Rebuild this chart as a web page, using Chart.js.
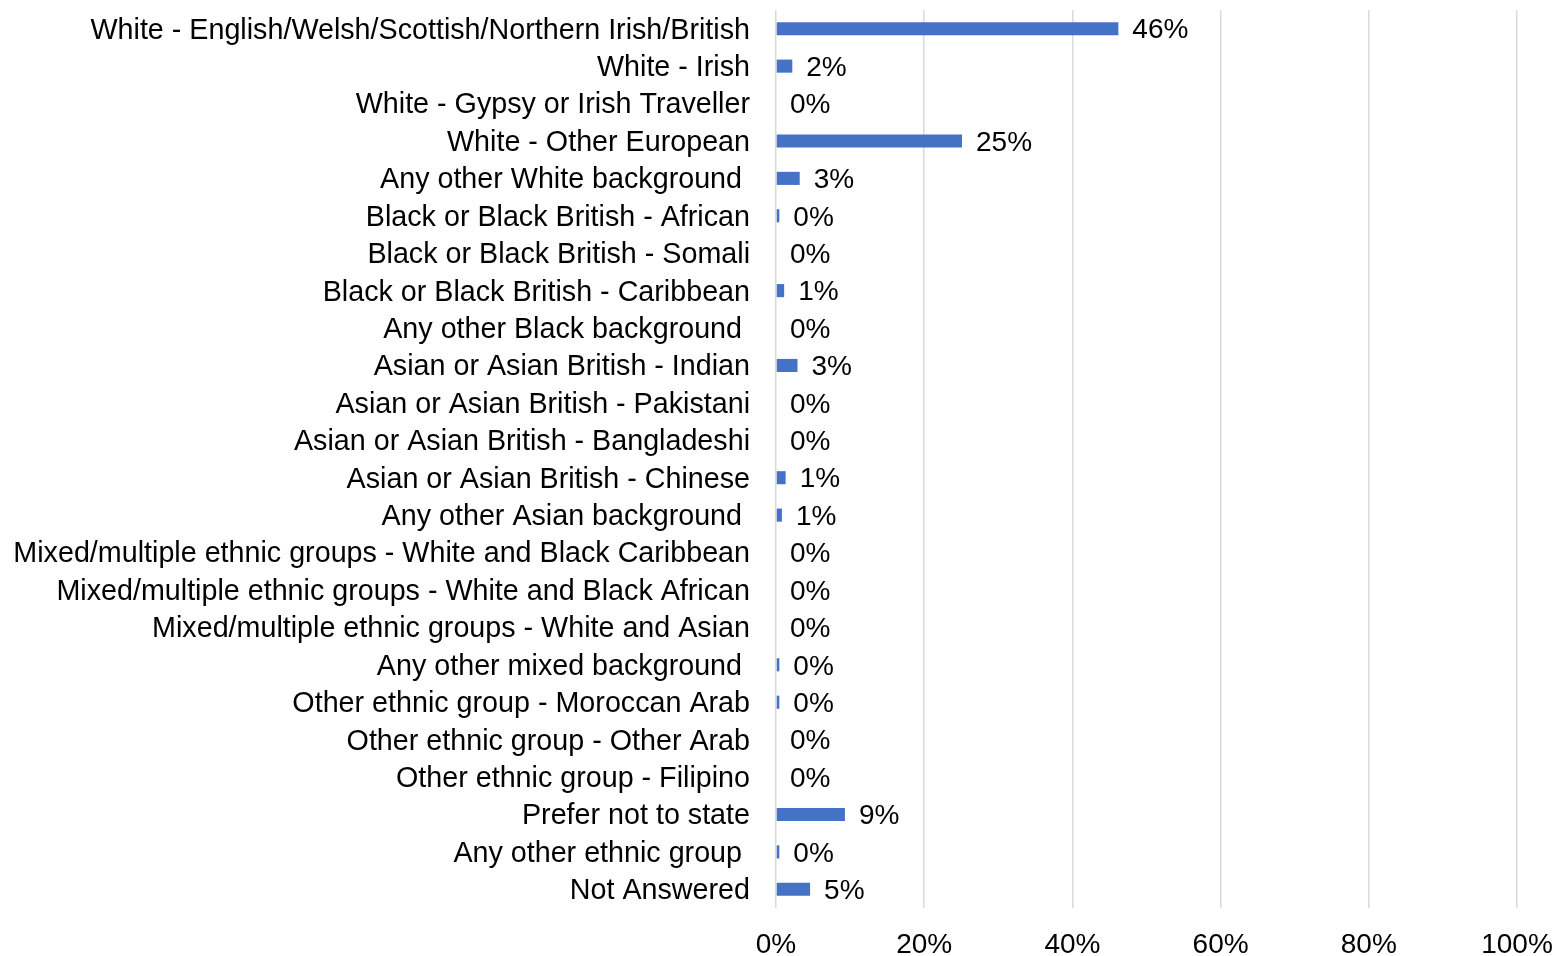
<!DOCTYPE html>
<html>
<head>
<meta charset="utf-8">
<title>Ethnic group</title>
<script src="https://cdn.jsdelivr.net/npm/chart.js@4.4.0/dist/chart.umd.min.js"></script>
<style>
  html, body { margin: 0; padding: 0; background: #fff; }
  #wrap { width: 1554px; height: 956px; }
</style>
</head>
<body>
<div id="wrap"><canvas id="ethnicChart" width="1554" height="956"></canvas></div>
<script>
/* ---------- DATA ---------- */
const GROUPS = [
  "White - English/Welsh/Scottish/Northern Irish/British",
  "White - Irish",
  "White - Gypsy or Irish Traveller",
  "White - Other European",
  "Any other White background ",
  "Black or Black British - African",
  "Black or Black British - Somali",
  "Black or Black British - Caribbean",
  "Any other Black background ",
  "Asian or Asian British - Indian",
  "Asian or Asian British - Pakistani",
  "Asian or Asian British - Bangladeshi",
  "Asian or Asian British - Chinese",
  "Any other Asian background ",
  "Mixed/multiple ethnic groups - White and Black Caribbean",
  "Mixed/multiple ethnic groups - White and Black African",
  "Mixed/multiple ethnic groups - White and Asian",
  "Any other mixed background ",
  "Other ethnic group - Moroccan Arab",
  "Other ethnic group - Other Arab",
  "Other ethnic group - Filipino",
  "Prefer not to state",
  "Any other ethnic group ",
  "Not Answered"
];

// share of respondents, in percent
const SHARE = [
  46.2, 2.2, 0, 25.1, 3.2, 0.45, 0, 1.1, 0, 2.9, 0, 0,
  1.3, 0.8, 0, 0, 0, 0.45, 0.45, 0, 0, 9.3, 0.45, 4.6
];

const X_TICKS = [0, 20, 40, 60, 80, 100];

/* ---------- STYLE ---------- */
const FAMILY = "'Liberation Sans', Arial, sans-serif";
const TICK_FONT = { family: FAMILY, size: 28 };
const CAT_FONT = { family: FAMILY, size: 28.7 };
const BAR_COLOR = "#4472C4";
const GRID_COLOR = "#d9d9d9";
const PLOT_LEFT = 776;
const PLOT_RIGHT_GAP = 37;

/* ---------- VALUE LABELS ---------- */
const valueLabels = {
  id: "valueLabels",
  afterDatasetsDraw(chart) {
    const c = chart.ctx;
    const meta = chart.getDatasetMeta(0);
    c.save();
    c.font = `${TICK_FONT.size}px ${FAMILY}`;
    c.fillStyle = "#000";
    c.textAlign = "left";
    c.textBaseline = "middle";
    meta.data.forEach((bar, i) => {
      c.fillText(Math.round(SHARE[i]) + "%", bar.x + 14, bar.y + 2);
    });
    c.restore();
  }
};

/* ---------- CHART ---------- */
const ctx = document.getElementById("ethnicChart").getContext("2d");

new Chart(ctx, {
  type: "bar",
  data: {
    labels: GROUPS,
    datasets: [{
      data: SHARE,
      backgroundColor: BAR_COLOR,
      borderWidth: 0,
      categoryPercentage: 1,
      barPercentage: 0.35
    }]
  },
  plugins: [valueLabels],
  options: {
    indexAxis: "y",
    responsive: false,
    animation: false,
    layout: { padding: { top: 10, left: 0, right: 0, bottom: 0 } },
    plugins: {
      legend: { display: false },
      tooltip: { enabled: false }
    },
    scales: {
      x: {
        min: 0,
        max: 100,
        afterBuildTicks: scale => {
          scale.ticks = X_TICKS.map(v => ({ value: v }));
        },
        afterFit: scale => {
          scale.height = 48;
          scale.paddingLeft = 0;
          scale.paddingRight = PLOT_RIGHT_GAP;
        },
        grid: { color: GRID_COLOR, lineWidth: 1.5, drawTicks: false },
        border: { display: false },
        ticks: {
          color: "#000",
          font: TICK_FONT,
          padding: 20,
          maxRotation: 0,
          callback: v => v + "%"
        }
      },
      y: {
        afterFit: scale => {
          scale.width = PLOT_LEFT;
          scale.paddingTop = 0;
          scale.paddingBottom = 0;
        },
        grid: { display: false, drawTicks: false },
        border: { display: false },
        ticks: {
          color: "#000",
          font: CAT_FONT,
          padding: 26,
          labelOffset: 2,
          autoSkip: false
        }
      }
    }
  }
});
</script>
</body>
</html>
